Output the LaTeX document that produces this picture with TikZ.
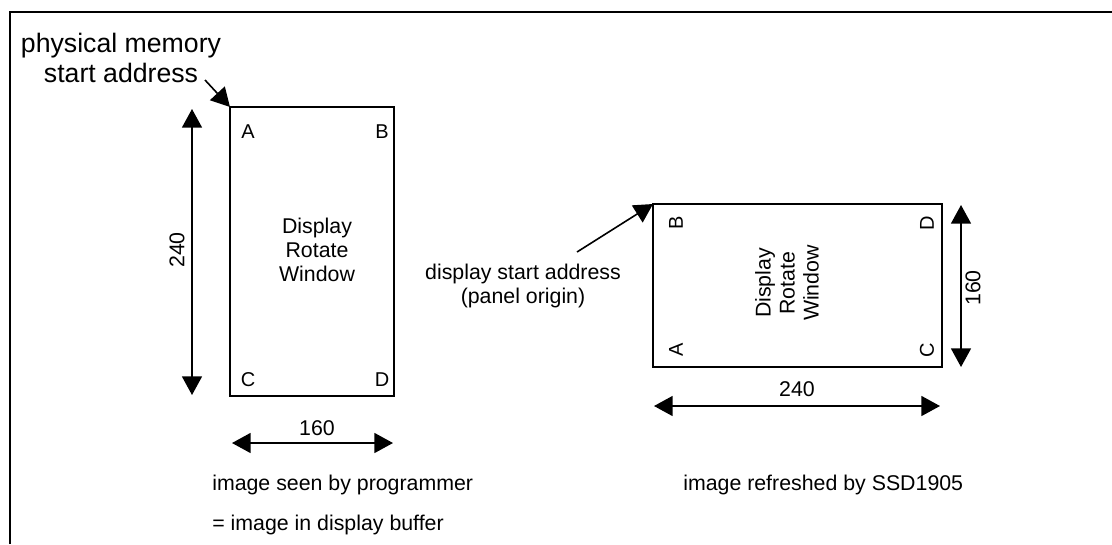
\documentclass[tikz,border=0pt]{standalone}
\usepackage{fontspec}
\setmainfont{Liberation Sans}
\usetikzlibrary{positioning, arrows.meta}

\begin{document}
\begin{tikzpicture}[x=0.75pt, y=-0.75pt]
\tikzset{
    every node/.style={align=center, inner sep=0pt, font=\fontsize{16}{18}\selectfont},
    win/.style={draw, line width=1.2pt, outer sep=0pt},
    corner/.style={font=\fontsize{15}{17}\selectfont},
    dim/.style={line width=1.2pt, {Triangle[width=15pt,length=14pt]}-{Triangle[width=15pt,length=14pt]}},
    pointer/.style={line width=1.2pt, -{Triangle[width=15pt,length=14pt]}}
}

\useasboundingbox (0,0) rectangle (1112,544);
\draw[line width=1.5pt] (10,544) -- (10,12) -- (1112,12);

% buffer image (left)
\node[win, minimum width=123pt, minimum height=216.75pt] (buf) at (312,251.5) {};
\node (bufText) at (317,250) {Display\\Rotate\\Window};
\node[corner] (bufA) at (248,132) {A};
\node[corner] (bufB) at (382,132) {B};
\node[corner] (bufC) at (248,380) {C};
\node[corner] (bufD) at (382,380) {D};

\node[font=\fontsize{20}{22.5}\selectfont] (pmLabel) at (121,58) {physical memory\\start address};
\coordinate (pmTail) at (205,80);
\draw[pointer] (pmTail) -- (buf.north west);

\coordinate (bufTop) at (192,109);
\coordinate (bufBot) at (192,395);
\draw[dim] (bufTop) -- (bufBot);
\node[rotate=90] (bufH) at (177,250) {240};

\coordinate (bufLeft) at (232,443);
\coordinate (bufRight) at (393,443);
\draw[dim] (bufLeft) -- (bufRight);
\node (bufW) at (317,428) {160};

\node[anchor=west] (seenLabel) at (212,485) {image seen by programmer};
\node[anchor=west] (bufLabel) at (212,525) {= image in display buffer};

% panel image (right)
\node[win, minimum width=216.75pt, minimum height=122.25pt] (pan) at (797.5,285.5) {};
\node[rotate=90] (panText) at (787,283) {Display\\Rotate\\Window};
\node[corner, rotate=90] (panB) at (676,223) {B};
\node[corner, rotate=90] (panD) at (927,223) {D};
\node[corner, rotate=90] (panA) at (676,350) {A};
\node[corner, rotate=90] (panC) at (927,350) {C};

\node (dsLabel) at (523,286) {display start address\\(panel origin)};
\coordinate (dsTail) at (577,252);
\draw[pointer] (dsTail) -- (pan.north west);

\coordinate (panTop) at (961,205);
\coordinate (panBot) at (961,367);
\draw[dim] (panTop) -- (panBot);
\node[rotate=90] (panH) at (973,288) {160};

\coordinate (panLeft) at (654,406);
\coordinate (panRight) at (940,406);
\draw[dim] (panLeft) -- (panRight);
\node (panW) at (797,389) {240};

\node[anchor=west] (refLabel) at (683,485) {image refreshed by SSD1905};
\end{tikzpicture}
\end{document}
